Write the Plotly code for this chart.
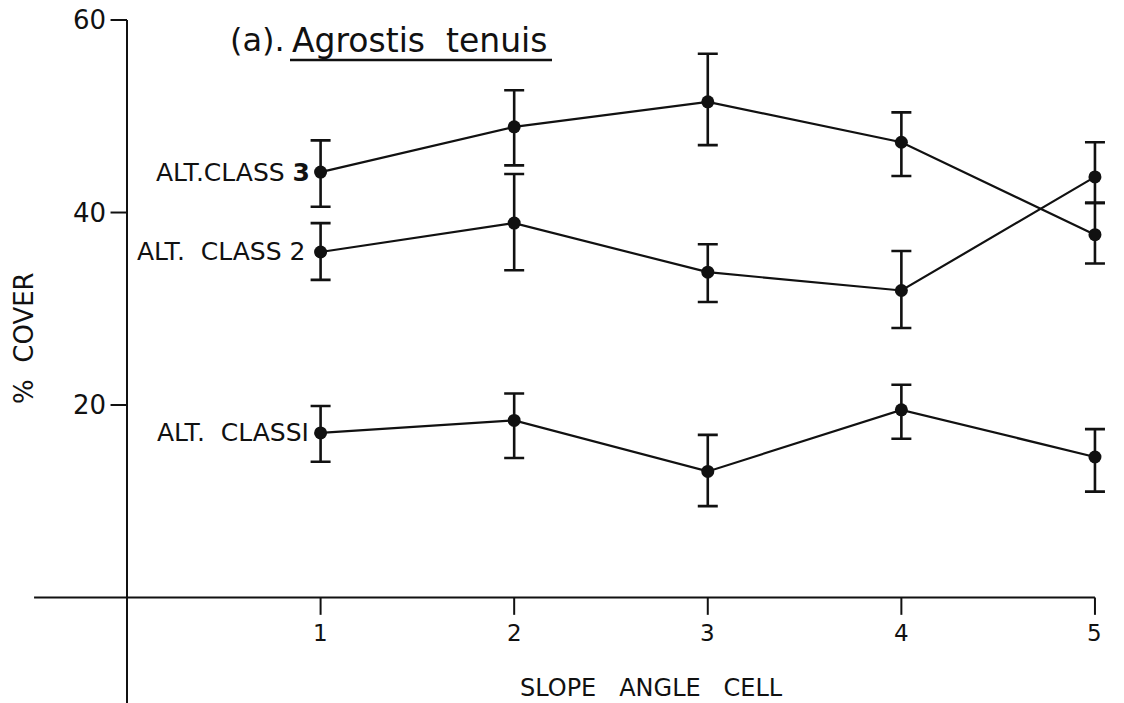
import plotly.graph_objects as go

# Slope angle cells on the horizontal axis
slope_cells = [1, 2, 3, 4, 5]

# Mean % cover of Agrostis tenuis per altitude class, with upper / lower error extents
class1_mean = [17.1, 18.4, 13.1, 19.5, 14.6]
class1_err_up = [2.8, 2.8, 3.8, 2.6, 2.9]
class1_err_down = [3.0, 3.9, 3.6, 3.0, 3.6]

class2_mean = [35.9, 38.9, 33.8, 31.9, 43.7]
class2_err_up = [3.0, 5.1, 2.9, 4.1, 3.6]
class2_err_down = [2.9, 4.9, 3.1, 3.9, 2.7]

class3_mean = [44.2, 48.9, 51.5, 47.3, 37.7]
class3_err_up = [3.3, 3.8, 5.0, 3.1, 3.3]
class3_err_down = [3.6, 4.0, 4.5, 3.5, 3.0]

series_labels = ["ALT.  CLASSI", "ALT.  CLASS 2", "ALT.CLASS <b>3</b>"]
y_tick_values = [20, 40, 60]
y_tick_labels = ["20", "40", "60"]

INK = "#111111"
FONT = "DejaVu Sans"

fig = go.Figure()

series = [
    (class1_mean, class1_err_up, class1_err_down),
    (class2_mean, class2_err_up, class2_err_down),
    (class3_mean, class3_err_up, class3_err_down),
]

for mean, up, down in series:
    fig.add_trace(go.Scatter(
        x=slope_cells, y=mean, mode="lines+markers",
        line=dict(color=INK, width=2.2),
        marker=dict(color=INK, size=13),
        error_y=dict(type="data", symmetric=False, array=up, arrayminus=down,
                     color=INK, thickness=2.6, width=10),
        showlegend=False,
    ))

# Series labels to the left of the first point (hand-lettered, so gaps vary)
label_gaps = [-10, -14, -9]
for label, gap, (mean, _, _) in zip(series_labels, label_gaps, series):
    fig.add_annotation(x=slope_cells[0], y=mean[0], text=label, showarrow=False,
                       xanchor="right", yanchor="middle", xshift=gap,
                       font=dict(family=FONT, size=25, color=INK))

shapes = []
# Vertical axis, running past the horizontal axis to the bottom edge
shapes.append(dict(type="line", xref="x", yref="y", x0=0, x1=0, y0=60, y1=-11,
                   line=dict(color=INK, width=2)))
# Horizontal axis, extending left of the vertical axis
shapes.append(dict(type="line", xref="x", yref="y", x0=-0.48, x1=slope_cells[-1], y0=0, y1=0,
                   line=dict(color=INK, width=2)))
for v in y_tick_values:
    shapes.append(dict(type="line", xref="x", yref="y", x0=-0.085, x1=0, y0=v, y1=v,
                       line=dict(color=INK, width=2)))
for c in slope_cells:
    shapes.append(dict(type="line", xref="x", yref="y", x0=c, x1=c, y0=0, y1=-1.8,
                       line=dict(color=INK, width=2)))
# Underline beneath the species name
shapes.append(dict(type="line", xref="paper", yref="paper",
                   x0=290 / 1124, x1=552 / 1124, y0=1 - 60 / 703, y1=1 - 60 / 703,
                   line=dict(color=INK, width=2.5)))

for v, t in zip(y_tick_values, y_tick_labels):
    fig.add_annotation(x=0, y=v, text=t, showarrow=False, xanchor="right",
                       yanchor="middle", xshift=-19,
                       font=dict(family=FONT, size=26, color=INK))
for c in slope_cells:
    fig.add_annotation(x=c, y=0, text=str(c), showarrow=False, xanchor="center",
                       yanchor="top", yshift=-20,
                       font=dict(family=FONT, size=23, color=INK))

fig.add_annotation(x=651 / 1124, y=1 - 688 / 703, xref="paper", yref="paper",
                   text="SLOPE   ANGLE   CELL", showarrow=False,
                   xanchor="center", yanchor="middle",
                   font=dict(family=FONT, size=24, color=INK))
fig.add_annotation(x=24 / 1124, y=1 - 338 / 703, xref="paper", yref="paper",
                   text="%  COVER", showarrow=False, textangle=-90,
                   xanchor="center", yanchor="middle",
                   font=dict(family=FONT, size=26, color=INK))
fig.add_annotation(x=287 / 1124, y=1 - 40 / 703, xref="paper", yref="paper",
                   text="(a).", showarrow=False,
                   xanchor="right", yanchor="middle",
                   font=dict(family=FONT, size=32, color=INK))
fig.add_annotation(x=290 / 1124, y=1 - 40 / 703, xref="paper", yref="paper",
                   text="Agrostis  tenuis", showarrow=False,
                   xanchor="left", yanchor="middle",
                   font=dict(family=FONT, size=33, color=INK))

fig.update_layout(
    width=1124, height=703, autosize=False,
    margin=dict(l=0, r=0, t=0, b=0),
    paper_bgcolor="white", plot_bgcolor="white",
    xaxis=dict(range=[-0.656, 5.150], visible=False, fixedrange=True),
    yaxis=dict(range=[-10.96, 62.08], visible=False, fixedrange=True),
    shapes=shapes,
)

fig.write_html("out.html")
